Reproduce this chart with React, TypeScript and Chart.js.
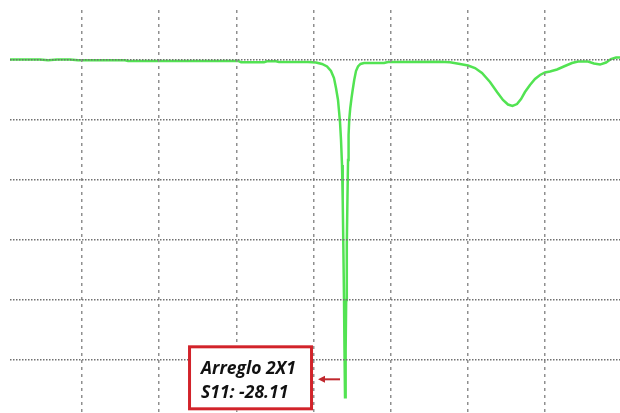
import React, { useEffect, useRef } from "react";
import { Chart, registerables } from "chart.js";

Chart.register(...registerables);

// Frequency axis in grid divisions, S11 in dB (5 dB per division)
const seriesName = "Arreglo 2X1";
const freq: number[] = [
  0.067, 0.456, 0.56, 0.676, 0.845, 0.948, 1.557, 1.596, 2.205, 3.021,
  3.06, 3.358, 3.396, 3.513, 3.552, 3.927, 4.031, 4.109, 4.174, 4.225,
  4.264, 4.29, 4.316, 4.329, 4.342, 4.355, 4.368, 4.377, 4.385, 4.394,
  4.4, 4.407, 4.415, 4.422, 4.43, 4.438, 4.446, 4.453, 4.462, 4.475,
  4.491, 4.506, 4.526, 4.549, 4.575, 4.608, 4.653, 4.912, 4.964, 5.637,
  5.767, 5.896, 6.0, 6.091, 6.181, 6.285, 6.376, 6.453, 6.518, 6.576,
  6.635, 6.687, 6.738, 6.803, 6.868, 6.933, 6.997, 7.062, 7.153, 7.256,
  7.347, 7.425, 7.554, 7.632, 7.71, 7.788, 7.852, 7.917, 7.969,
];
const s11: number[] = [
  0.04, 0.04, -0.02, 0.04, 0.04, -0.03, -0.03, -0.08, -0.08, -0.08,
  -0.18, -0.18, -0.11, -0.11, -0.17, -0.17, -0.21, -0.33, -0.54, -0.92,
  -1.5, -2.33, -3.33, -4.25, -5.17, -6.67, -8.75, -11.67, -15.42, -20.0,
  -24.17, -28.11, -24.17, -20.0, -15.42, -11.67, -8.33, -6.25, -4.92, -4.0,
  -3.17, -2.5, -1.67, -0.92, -0.54, -0.33, -0.25, -0.25, -0.17, -0.15,
  -0.19, -0.33, -0.46, -0.67, -1.08, -1.83, -2.67, -3.33, -3.71, -3.83,
  -3.67, -3.25, -2.67, -2.08, -1.58, -1.25, -1.04, -0.96, -0.79, -0.5,
  -0.25, -0.13, -0.13, -0.29, -0.38, -0.21, 0.08, 0.21, 0.21,
];
const xGridTicks: number[] = [1, 2, 3, 4, 5, 6, 7];
const yGridTicks: number[] = [-25, -20, -15, -10, -5, 0];

const annotationPlugin = {
  id: "markerBox",
  afterDraw(chart: any) {
    const ctx = chart.ctx;
    const xs = chart.scales.x;
    const ys = chart.scales.y;
    let mi = 0;
    for (let i = 1; i < s11.length; i++) if (s11[i] < s11[mi]) mi = i;
    const px = xs.getPixelForValue(freq[mi]);
    const py = ys.getPixelForValue(s11[mi]);
    ctx.save();
    // arrow
    const ay = py - 18;
    ctx.strokeStyle = "#c0272d";
    ctx.fillStyle = "#c0272d";
    ctx.lineWidth = 2;
    ctx.beginPath();
    ctx.moveTo(px - 5, ay);
    ctx.lineTo(px - 22, ay);
    ctx.stroke();
    ctx.beginPath();
    ctx.moveTo(px - 27, ay);
    ctx.lineTo(px - 20, ay - 3.5);
    ctx.lineTo(px - 20, ay + 3.5);
    ctx.closePath();
    ctx.fill();
    // box
    const right = px - 32;
    const left = right - 125;
    const top = py - 52;
    const bottom = py + 13;
    ctx.fillStyle = "#ffffff";
    ctx.fillRect(left, top, right - left, bottom - top);
    ctx.strokeStyle = "#d2232a";
    ctx.lineWidth = 3;
    ctx.strokeRect(left + 1.5, top + 1.5, right - left - 3, bottom - top - 3);
    // text
    ctx.fillStyle = "#111111";
    ctx.font = 'italic bold 17.5px "Open Sans"';
    ctx.textBaseline = "middle";
    ctx.textAlign = "left";
    ctx.fillText(seriesName, left + 13, py - 28);
    ctx.fillText(`S11: ${s11[mi].toFixed(2)}`, left + 13, py - 4);
    ctx.restore();
  },
};

export default function App() {
  const ref = useRef<HTMLCanvasElement>(null);
  useEffect(() => {
    if (!ref.current) return;
    const chart = new Chart(ref.current, {
      type: "line",
      data: {
        datasets: [
          {
            label: seriesName,
            data: freq.map((f, i) => ({ x: f, y: s11[i] })),
            borderColor: "#52e352",
            borderWidth: 2.5,
            pointRadius: 0,
            tension: 0,
            fill: false,
          },
        ],
      },
      options: {
        animation: false,
        responsive: false,
        devicePixelRatio: 1,
        layout: { padding: { left: 10, top: 10, right: 0, bottom: 0 } },
        plugins: { legend: { display: false }, tooltip: { enabled: false } },
        scales: {
          x: {
            type: "linear",
            min: 0.067,
            max: 7.969,
            afterBuildTicks: (axis: any) => {
              axis.ticks = xGridTicks.map((v) => ({ value: v }));
            },
            ticks: { display: false },
            grid: { color: "#8f8f8f", lineWidth: 1.5, drawTicks: false, z: 1 },
            border: { display: false, dash: [3, 4] },
          },
          y: {
            type: "linear",
            min: -29.417,
            max: 4.167,
            afterBuildTicks: (axis: any) => {
              axis.ticks = yGridTicks.map((v) => ({ value: v }));
            },
            ticks: { display: false },
            grid: { color: "#707070", lineWidth: 1.5, drawTicks: false, z: 1 },
            border: { display: false, dash: [1.5, 1.5] },
          },
        },
      },
      plugins: [annotationPlugin],
    });
    return () => chart.destroy();
  }, []);
  return (
    <div style={{ position: "absolute", left: 0, top: 0, width: 620, height: 413, background: "#fff" }}>
      <canvas ref={ref} width={620} height={413} style={{ display: "block" }} />
    </div>
  );
}
